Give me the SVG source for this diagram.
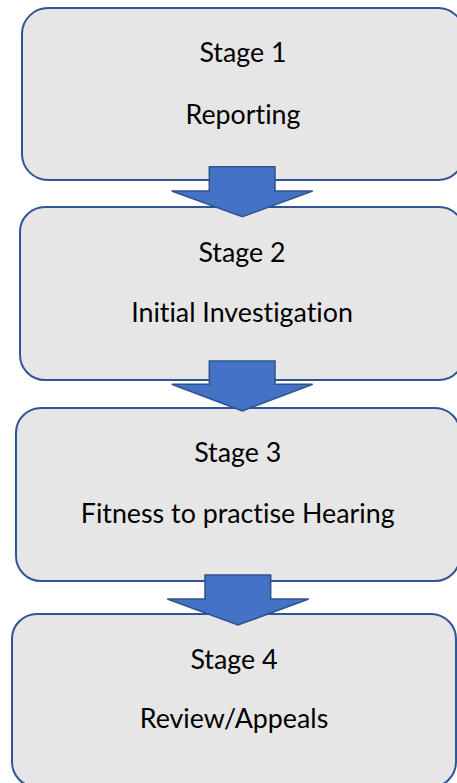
<svg xmlns="http://www.w3.org/2000/svg" width="457" height="783" viewBox="0 0 457 783">
<style>
.box{fill:#E7E6E6;stroke:#2F5597;stroke-width:2}
.arr{fill:#4472C4;stroke:#2F528F;stroke-width:1.5;stroke-linejoin:miter}
text{font-family:Lato,"Liberation Sans",sans-serif;font-size:26.8px;fill:#000;text-anchor:middle;font-variant-ligatures:none;font-feature-settings:"liga" 0,"dlig" 0}
</style>
<rect width="457" height="783" fill="#fff"/>
<g id="stage1">
<rect class="box" x="22" y="8" width="442" height="172" rx="26"/>
<text x="243" y="62.3">Stage 1</text>
<text x="243" y="124">Reporting</text>
</g>
<g id="stage2">
<rect class="box" x="20" y="207" width="444" height="173" rx="25"/>
<text x="242" y="261.7">Stage 2</text>
<text x="242" y="321.7">Initial Investigation</text>
</g>
<g id="stage3">
<rect class="box" x="16" y="408" width="444" height="173" rx="25"/>
<text x="237.7" y="462.3">Stage 3</text>
<text x="237.7" y="522.7">Fitness to practise Hearing</text>
</g>
<g id="stage4">
<rect class="box" x="12" y="614" width="444" height="173" rx="25"/>
<text x="234" y="669">Stage 4</text>
<text x="234" y="728.3">Review/Appeals</text>
</g>
<g id="connectors">
<polygon class="arr" points="209.3,166.7 275,166.7 275,191 312.7,191 242.3,216.7 171.7,191 209.3,191"/>
<polygon class="arr" points="209.3,361 275,361 275,384.3 312.7,384.3 242.3,411 171.7,384.3 209.3,384.3"/>
<polygon class="arr" points="205,575 270.7,575 270.7,599 308.7,599 238,625 167.3,599 205,599"/>
</g>
</svg>
